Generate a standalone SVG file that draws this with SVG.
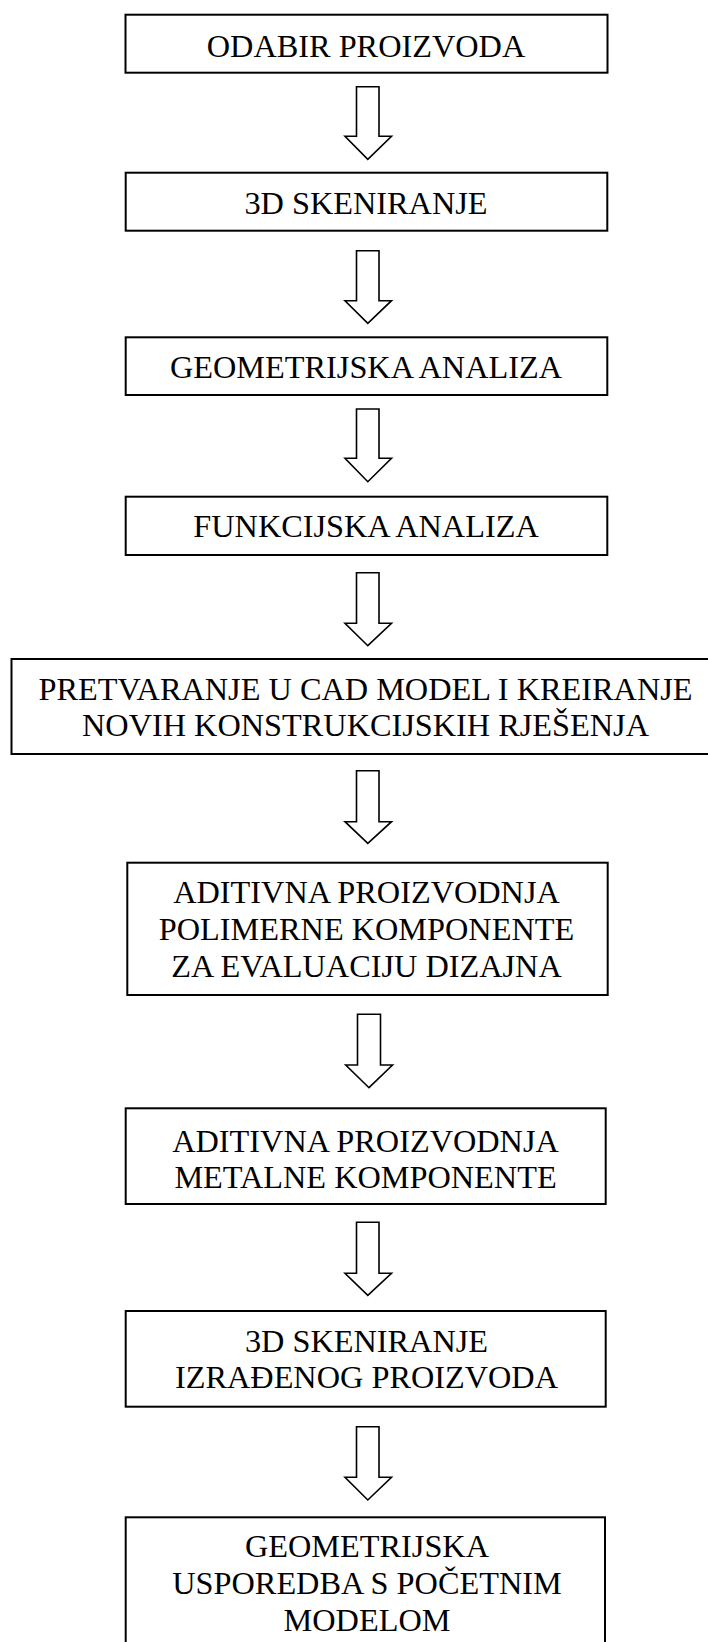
<svg xmlns="http://www.w3.org/2000/svg" width="708" height="1642" viewBox="0 0 708 1642">
<style>
.box{fill:#fff;stroke:#000;stroke-width:2}
.arr{fill:#fff;stroke:#000;stroke-width:1.6;stroke-linejoin:miter}
text{font-family:"Liberation Serif","Times New Roman",serif;font-size:32.3px;fill:#000;text-anchor:middle}
</style>
<rect width="708" height="1642" fill="#fff"/>
<g id="connectors">
<path class="arr" d="M356.5 86.7H379V136.3H391.5L367.8 159.3L345 136.3H356.5Z"/>
<path class="arr" d="M356.5 250.7H379V300.7H391.5L367.8 323.3L345 300.7H356.5Z"/>
<path class="arr" d="M356.5 409H379V458.3H391.5L367.8 481.7L345 458.3H356.5Z"/>
<path class="arr" d="M356.5 572.7H379V623.3H391.5L367.8 645.7L345 623.3H356.5Z"/>
<path class="arr" d="M356.5 770.7H379V821.7H391.5L367.8 843.3L345 821.7H356.5Z"/>
<path class="arr" d="M357.5 1014.3H380.5V1065H392.5L369 1087.7L345.7 1065H357.5Z"/>
<path class="arr" d="M356.5 1222.3H379V1273.3H391.5L367.8 1295.3L345 1273.3H356.5Z"/>
<path class="arr" d="M356.5 1426.7H379V1477.3H391.5L367.8 1500L345 1477.3H356.5Z"/>
</g>
<g id="n1"><rect class="box" x="125.5" y="14.7" width="482" height="58"/><text x="366" y="56.5">ODABIR PROIZVODA</text></g>
<g id="n2"><rect class="box" x="125.7" y="172.7" width="481.6" height="58"/><text x="366" y="214">3D SKENIRANJE</text></g>
<g id="n3"><rect class="box" x="125.7" y="337.3" width="481.6" height="57.7"/><text x="366" y="377.7">GEOMETRIJSKA ANALIZA</text></g>
<g id="n4"><rect class="box" x="125.7" y="496.7" width="481.6" height="58.3"/><text x="366" y="537">FUNKCIJSKA ANALIZA</text></g>
<g id="n5"><rect class="box" x="11.5" y="659" width="705" height="95"/><text x="365.5" y="700">PRETVARANJE U CAD MODEL I KREIRANJE</text><text x="365.5" y="735.5">NOVIH KONSTRUKCIJSKIH RJEŠENJA</text></g>
<g id="n6"><rect class="box" x="127.3" y="862.7" width="480.4" height="132.3"/><text x="366.5" y="903.3">ADITIVNA PROIZVODNJA</text><text x="366.5" y="940">POLIMERNE KOMPONENTE</text><text x="366.5" y="976.7">ZA EVALUACIJU DIZAJNA</text></g>
<g id="n7"><rect class="box" x="125.7" y="1108.3" width="480" height="95.7"/><text x="365.5" y="1151.7">ADITIVNA PROIZVODNJA</text><text x="365.5" y="1188.3">METALNE KOMPONENTE</text></g>
<g id="n8"><rect class="box" x="125.7" y="1311" width="480" height="95.7"/><text x="366.5" y="1351.7">3D SKENIRANJE</text><text x="366.5" y="1388.3">IZRAĐENOG PROIZVODA</text></g>
<g id="n9"><rect class="box" x="125.7" y="1517.3" width="479.3" height="140"/><text x="367" y="1557.3">GEOMETRIJSKA</text><text x="367" y="1594.3">USPOREDBA S POČETNIM</text><text x="367" y="1631">MODELOM</text></g>
</svg>
